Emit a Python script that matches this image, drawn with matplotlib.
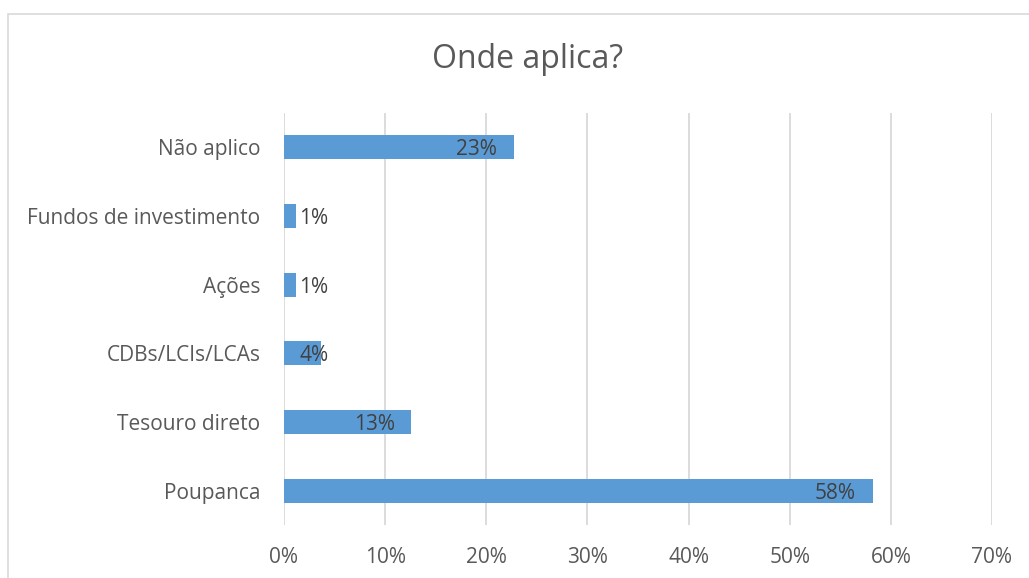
import matplotlib
matplotlib.use("Agg")
import matplotlib.pyplot as plt
from matplotlib.patches import Rectangle
from matplotlib.ticker import PercentFormatter

# data, bottom to top as drawn
categories = ["Poupanca", "Tesouro direto", "CDBs/LCIs/LCAs", "Ações",
              "Fundos de investimento", "Não aplico"]
shares = [58.2, 12.6, 3.7, 1.2, 1.2, 22.7]
labels = ["58%", "13%", "4%", "1%", "1%", "23%"]
x_ticks = [0, 10, 20, 30, 40, 50, 60, 70]

BAR = "#5B9BD5"
GRID = "#D9D9D9"
TEXT = "#595959"
LABEL = "#404040"

plt.rcParams["font.family"] = ["Open Sans", "DejaVu Sans"]

fig = plt.figure(figsize=(10.29, 5.78), dpi=100)
W, H = 1029, 578

# chart frame (Excel-style border, cut off on right/bottom)
fig.patches.append(Rectangle((8 / W, -0.05), 1.1, 1 - 14 / H + 0.05,
                             transform=fig.transFigure, fill=False,
                             edgecolor=GRID, linewidth=1.2))

ax = fig.add_axes([284 / W, 1 - 525 / H, (992 - 284) / W, (525 - 113) / H])
y = range(len(categories))
ax.barh(y, shares, height=0.35, color=BAR, zorder=3)

ax.set_xlim(0, 70)
ax.set_ylim(-0.5, len(categories) - 0.5)
ax.set_xticks(x_ticks)
ax.xaxis.set_major_formatter(PercentFormatter(decimals=0))
ax.set_yticks(list(y))
ax.set_yticklabels(categories)
ax.tick_params(axis="both", length=0, labelsize=15, colors=TEXT)
ax.tick_params(axis="y", pad=17)
ax.tick_params(axis="x", pad=16)
ax.grid(axis="x", color=GRID, linewidth=1.3, zorder=0)
for s in ax.spines.values():
    s.set_visible(False)

# Excel "inside end" labels; tiny bars push the label to the right
for yi, v, lab in zip(y, shares, labels):
    if v >= 8:
        ax.annotate(lab, (v, yi), xytext=(-12, 0), textcoords="offset points",
                    ha="right", va="center_baseline", fontsize=15,
                    color=LABEL, zorder=4)
    else:
        ax.annotate(lab, (0, yi), xytext=(11, 0), textcoords="offset points",
                    ha="left", va="center_baseline", fontsize=15,
                    color=LABEL, zorder=4)

fig.text(528 / W, 1 - 60 / H, "Onde aplica?", ha="center", va="center",
         fontsize=23, color=TEXT)

fig.savefig("out.png", dpi=100)
